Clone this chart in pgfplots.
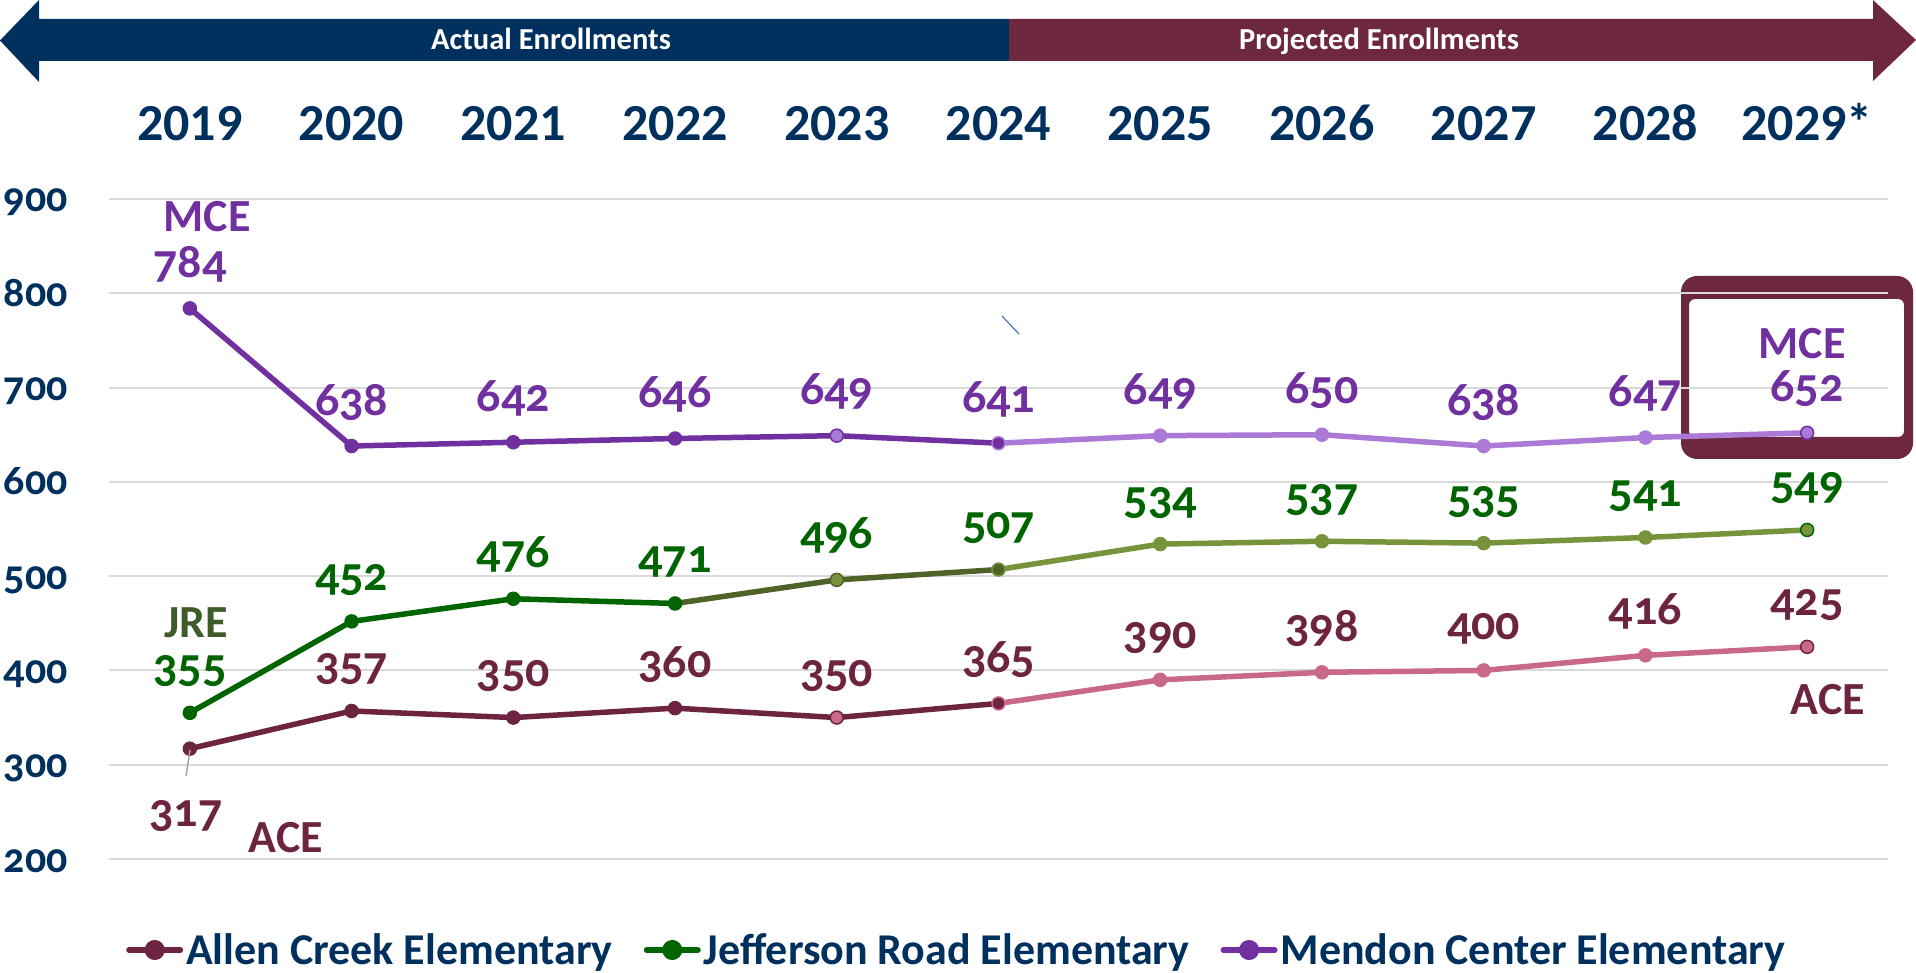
\documentclass[border=0pt]{standalone}
\usepackage{fontspec}
\setmainfont{Carlito}
\newfontfamily\osf{Carlito}[Numbers=OldStyle]
\usepackage{pgfplots}
\pgfplotsset{compat=1.18}
\pgfkeys{/pgf/number format/assume math mode=true}
\definecolor{navy}{RGB}{0,48,94}
\definecolor{maroonA}{RGB}{109,40,64}
\definecolor{mceD}{RGB}{112,48,160}
\definecolor{mceL}{RGB}{170,122,214}
\definecolor{jreD}{RGB}{0,100,0}
\definecolor{jreO}{RGB}{79,98,40}
\definecolor{jreL}{RGB}{119,147,60}
\definecolor{jreT}{RGB}{61,92,42}
\definecolor{aceD}{RGB}{109,36,64}
\definecolor{aceL}{RGB}{201,104,138}
\definecolor{gridc}{RGB}{217,217,217}
\definecolor{blueish}{RGB}{68,114,196}
\newcommand\dlab{\osf\bfseries\fontsize{48}{50}\selectfont}
\begin{document}
\begin{tikzpicture}
\path[use as bounding box] (0,0) rectangle (1916pt,972pt);
% timeline arrows
\fill[navy] (0,931.5pt) -- (39pt,972pt) -- (39pt,953pt) -- (1009pt,953pt) -- (1009pt,911pt) -- (39pt,911pt) -- (39pt,890pt) -- cycle;
\fill[maroonA] (1009pt,953pt) -- (1873pt,953pt) -- (1873pt,972pt) -- (1916pt,932pt) -- (1873pt,891pt) -- (1873pt,911pt) -- (1009pt,911pt) -- cycle;
\node[anchor=base, text=white, font=\bfseries\fontsize{30.5}{32}\selectfont, inner sep=0pt] at (551pt,922pt) {Actual Enrollments};
\node[anchor=base, text=white, font=\bfseries\fontsize{30.5}{32}\selectfont, inner sep=0pt] at (1379pt,922pt) {Projected Enrollments};
% highlight box
\fill[maroonA, even odd rule] [rounded corners=16pt] (1681pt,513pt) rectangle (1913pt,696pt) [rounded corners=6pt] (1689pt,535pt) rectangle (1904pt,673pt);
% stray line
\draw[blueish, line width=1.2pt] (1002pt,656pt) -- (1019pt,638pt);
\begin{axis}[
  at={(109pt,113pt)}, anchor=south west,
  scale only axis, width=1779pt, height=660pt,
  xmin=-0.5, xmax=10.5, ymin=200, ymax=900,
  clip=false,
  axis line style={draw=none},
  major tick length=0pt,
  ymajorgrids, grid style={color=gridc, line width=2pt},
  ytick={200,300,...,900},
  yticklabel style={font=\osf\bfseries\fontsize{42}{44}\selectfont, text=navy, anchor=base east, inner sep=0pt, xshift=-41pt, yshift=-13pt},
  xtick={0,...,10},
  xticklabels={2019,2020,2021,2022,2023,2024,2025,2026,2027,2028,2029*},
  xticklabel pos=upper,
  xticklabel style={font=\bfseries\fontsize{52}{54}\selectfont, text=navy, anchor=base, inner sep=0pt, yshift=58pt},
  legend columns=3,
  legend style={draw=none, fill=none, at={(0.00956,-0.1379)}, anchor=west,
    font=\bfseries\fontsize{44}{46}\selectfont, text=navy, inner sep=0pt,
    nodes={inner sep=0pt},
    /tikz/every odd column/.append style={column sep=3pt},
    /tikz/every even column/.append style={column sep=31pt}},
  legend image code/.code={\draw[#1, line cap=round] (3pt,0pt) -- (54pt,0pt); \fill[#1] (28.5pt,0pt) circle (7pt);},
]
\addlegendimage{line width=6pt, color=aceD}
\addlegendentry{Allen Creek Elementary}
\addlegendimage{line width=6pt, color=jreD}
\addlegendentry{Jefferson Road Elementary}
\addlegendimage{line width=6pt, color=mceD}
\addlegendentry{Mendon Center Elementary}

% ---- lines ----
\addplot[forget plot, aceD, line width=5.5pt, mark=none] coordinates {(0,317)(1,357)(2,350)(3,360)(4,350)(5,365)};
\addplot[forget plot, aceL, line width=5.5pt, mark=none] coordinates {(5,365)(6,390)(7,398)(8,400)(9,416)(10,425)};
\addplot[forget plot, jreD, line width=5.5pt, mark=none] coordinates {(0,355)(1,452)(2,476)(3,471)};
\addplot[forget plot, jreO, line width=5.5pt, mark=none] coordinates {(3,471)(4,496)(5,507)};
\addplot[forget plot, jreL, line width=5.5pt, mark=none] coordinates {(5,507)(6,534)(7,537)(8,535)(9,541)(10,549)};
\addplot[forget plot, mceD, line width=5.5pt, mark=none] coordinates {(0,784)(1,638)(2,642)(3,646)(4,649)(5,641)};
\addplot[forget plot, mceL, line width=5.5pt, mark=none] coordinates {(5,641)(6,649)(7,650)(8,638)(9,647)(10,652)};

% ---- markers ----
\addplot[forget plot, only marks, mark=*, mark size=6.5pt, mark options={fill=aceD, draw=aceD, line width=1.5pt}] coordinates {(0,317)(1,357)(2,350)(3,360)};
\addplot[forget plot, only marks, mark=*, mark size=6.5pt, mark options={fill=aceL, draw=aceD, line width=1.5pt}] coordinates {(4,350)(10,425)};
\addplot[forget plot, only marks, mark=*, mark size=6.5pt, mark options={fill=aceD, draw=aceL, line width=1.5pt}] coordinates {(5,365)};
\addplot[forget plot, only marks, mark=*, mark size=6.5pt, mark options={fill=aceL, draw=aceL, line width=1.5pt}] coordinates {(6,390)(7,398)(8,400)(9,416)};

\addplot[forget plot, only marks, mark=*, mark size=6.5pt, mark options={fill=jreD, draw=jreD, line width=1.5pt}] coordinates {(0,355)(1,452)(2,476)(3,471)};
\addplot[forget plot, only marks, mark=*, mark size=6.5pt, mark options={fill=jreL, draw=jreO, line width=1.5pt}] coordinates {(4,496)};
\addplot[forget plot, only marks, mark=*, mark size=6.5pt, mark options={fill=jreO, draw=jreL, line width=1.5pt}] coordinates {(5,507)};
\addplot[forget plot, only marks, mark=*, mark size=6.5pt, mark options={fill=jreL, draw=jreL, line width=1.5pt}] coordinates {(6,534)(7,537)(8,535)(9,541)};
\addplot[forget plot, only marks, mark=*, mark size=6.5pt, mark options={fill=jreL, draw=jreD, line width=1.5pt}] coordinates {(10,549)};

\addplot[forget plot, only marks, mark=*, mark size=6.5pt, mark options={fill=mceD, draw=mceD, line width=1.5pt}] coordinates {(0,784)(1,638)(2,642)(3,646)};
\addplot[forget plot, only marks, mark=*, mark size=6.5pt, mark options={fill=mceL, draw=mceD, line width=1.5pt}] coordinates {(4,649)(10,652)};
\addplot[forget plot, only marks, mark=*, mark size=6.5pt, mark options={fill=mceD, draw=mceL, line width=1.5pt}] coordinates {(5,641)};
\addplot[forget plot, only marks, mark=*, mark size=6.5pt, mark options={fill=mceL, draw=mceL, line width=1.5pt}] coordinates {(6,649)(7,650)(8,638)(9,647)};

% ---- data labels ----
\addplot[forget plot, draw=none, mark=none, nodes near coords, nodes near coords style={anchor=base, inner sep=0pt, yshift=31pt, font=\dlab, text=aceD}] coordinates {(1,357)(2,350)(3,360)(4,350)(5,365)(6,390)(7,398)(8,400)(9,416)(10,425)};
\addplot[forget plot, draw=none, mark=none, nodes near coords, nodes near coords style={anchor=base, inner sep=0pt, yshift=-78pt, xshift=-4pt, font=\dlab, text=aceD}] coordinates {(0,317)};
\addplot[forget plot, draw=none, mark=none, nodes near coords, nodes near coords style={anchor=base, inner sep=0pt, yshift=31pt, font=\dlab, text=jreD}] coordinates {(0,355)(1,452)(2,476)(3,471)(4,496)(5,507)(6,534)(7,537)(8,535)(9,541)(10,549)};
\addplot[forget plot, draw=none, mark=none, nodes near coords, nodes near coords style={anchor=base, inner sep=0pt, yshift=31pt, font=\dlab, text=mceD}] coordinates {(0,784)(1,638)(2,642)(3,646)(4,649)(5,641)(6,649)(7,650)(8,638)(9,647)(10,652)};
\end{axis}
% series name annotations
\node[anchor=base, inner sep=0pt, text=mceD, font=\bfseries\fontsize{46}{48}\selectfont] at (207pt,740pt) {MCE};
\node[anchor=base, inner sep=0pt, text=mceD, font=\bfseries\fontsize{46}{48}\selectfont] at (1802pt,613pt) {MCE};
\node[anchor=base, inner sep=0pt, text=jreT, font=\bfseries\fontsize{46}{48}\selectfont] at (196pt,334pt) {JRE};
\node[anchor=base, inner sep=0pt, text=aceD, font=\bfseries\fontsize{46}{48}\selectfont] at (286pt,120pt) {ACE};
\node[anchor=base, inner sep=0pt, text=aceD, font=\bfseries\fontsize{46}{48}\selectfont] at (1828pt,257pt) {ACE};
\draw[gray!70, line width=1.5pt] (190pt,222pt) -- (186pt,196pt);
\end{tikzpicture}
\end{document}
